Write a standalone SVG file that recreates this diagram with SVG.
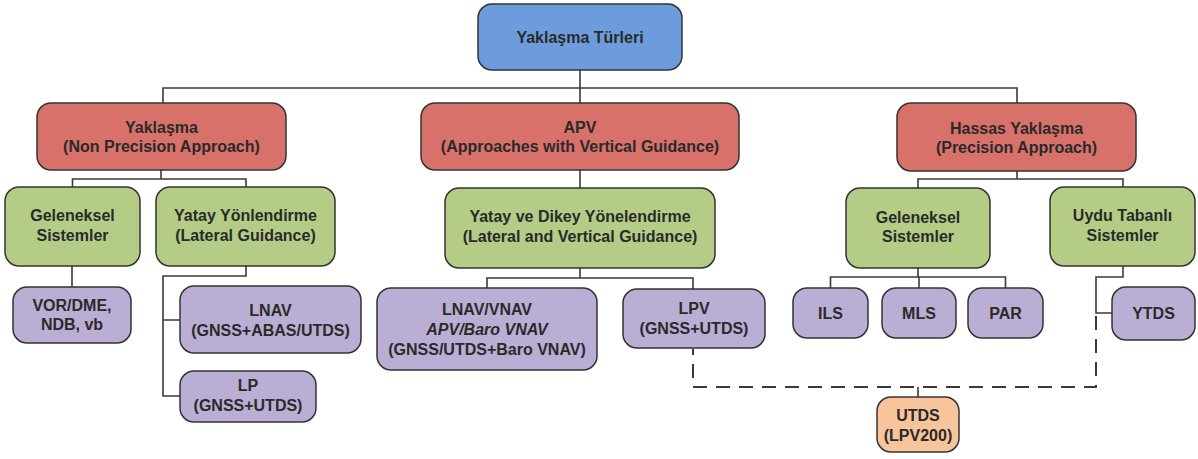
<svg xmlns="http://www.w3.org/2000/svg" width="1198" height="459" viewBox="0 0 1198 459">
<style>
.box{stroke:#333;stroke-width:1.5}
.blue{fill:#6c9cdb}
.red{fill:#d9716b}
.green{fill:#b4cc86}
.purple{fill:#bbaed4}
.orange{fill:#f8c49b}
text{font-family:"Liberation Sans",Arial,sans-serif;font-weight:bold;font-size:16px;fill:#2a2a2a;text-anchor:middle;dominant-baseline:central}
.it{font-style:italic}
.ln{fill:none;stroke:#3a3a3a;stroke-width:1.6}
.dash{fill:none;stroke:#3a3a3a;stroke-width:2;stroke-dasharray:14 9}
</style>
<rect width="1198" height="459" fill="#ffffff"/>
<g id="connectors">
<path class="ln" d="M580 70 V103 M163 103 V88 H1017 V103"/>
<path class="ln" d="M161 170 V179 M72.5 187 V179 H246 V187"/>
<path class="ln" d="M580 170 V188"/>
<path class="ln" d="M1017 171 V179 M918 188 V179 H1123 V187"/>
<path class="ln" d="M72 266 V287"/>
<path class="ln" d="M246 266 V276 H163 V396 H180 M163 320 H180"/>
<path class="ln" d="M580 268 V278 M487 288 V278 H693 V289"/>
<path class="ln" d="M918 268 V277 M830.5 288 V277 H1005.5 V288 M919 277 V288"/>
<path class="ln" d="M1123 266 V277 H1096 V313 H1112"/>
<path class="dash" d="M1096 316 V387 H693 V349"/>
<path class="ln" d="M918 387 V397"/>
</g>
<g id="root"><rect class="box blue" x="478" y="4" width="204" height="66" rx="14"/><text x="580" y="37">Yaklaşma Türleri</text></g>
<g id="npa"><rect class="box red" x="37" y="103" width="249" height="67" rx="14"/><text x="161.5" y="127">Yaklaşma</text><text x="161.5" y="146">(Non Precision Approach)</text></g>
<g id="apv"><rect class="box red" x="421" y="103" width="318" height="67" rx="14"/><text x="580" y="127">APV</text><text x="580" y="146">(Approaches with Vertical Guidance)</text></g>
<g id="pa"><rect class="box red" x="897" y="103" width="239" height="68" rx="14"/><text x="1016.5" y="128">Hassas Yaklaşma</text><text x="1016.5" y="147">(Precision Approach)</text></g>
<g id="geleneksel1"><rect class="box green" x="5" y="187" width="135" height="79" rx="14"/><text x="72.5" y="215">Geleneksel</text><text x="72.5" y="235">Sistemler</text></g>
<g id="yatay"><rect class="box green" x="156" y="187" width="179" height="79" rx="14"/><text x="245.5" y="215">Yatay Yönlendirme</text><text x="245.5" y="235">(Lateral Guidance)</text></g>
<g id="yataydikey"><rect class="box green" x="445" y="188" width="270" height="80" rx="14"/><text x="580" y="216">Yatay ve Dikey Yönelendirme</text><text x="580" y="236">(Lateral and Vertical Guidance)</text></g>
<g id="geleneksel2"><rect class="box green" x="846" y="188" width="144" height="80" rx="14"/><text x="918" y="217">Geleneksel</text><text x="918" y="236">Sistemler</text></g>
<g id="uydu"><rect class="box green" x="1050" y="187" width="145" height="79" rx="14"/><text x="1122.5" y="215">Uydu Tabanlı</text><text x="1122.5" y="235">Sistemler</text></g>
<g id="vor"><rect class="box purple" x="13" y="287" width="118" height="56" rx="14"/><text x="72" y="305">VOR/DME,</text><text x="72" y="324">NDB, vb</text></g>
<g id="lnav"><rect class="box purple" x="180" y="286" width="181" height="67" rx="14"/><text x="270.5" y="310">LNAV</text><text x="270.5" y="330">(GNSS+ABAS/UTDS)</text></g>
<g id="lp"><rect class="box purple" x="180" y="371" width="136" height="51" rx="14"/><text x="248" y="385">LP</text><text x="248" y="405">(GNSS+UTDS)</text></g>
<g id="lnavvnav"><rect class="box purple" x="377" y="288" width="220" height="82" rx="14"/><text x="487" y="309">LNAV/VNAV</text><text class="it" x="487" y="329">APV/Baro VNAV</text><text x="487" y="349">(GNSS/UTDS+Baro VNAV)</text></g>
<g id="lpv"><rect class="box purple" x="623" y="289" width="142" height="59" rx="14"/><text x="694" y="308">LPV</text><text x="694" y="328">(GNSS+UTDS)</text></g>
<g id="ils"><rect class="box purple" x="793" y="288" width="75" height="50" rx="14"/><text x="830.5" y="313">ILS</text></g>
<g id="mls"><rect class="box purple" x="882" y="288" width="74" height="50" rx="14"/><text x="919" y="313">MLS</text></g>
<g id="par"><rect class="box purple" x="968" y="288" width="75" height="50" rx="14"/><text x="1005.5" y="313">PAR</text></g>
<g id="ytds"><rect class="box purple" x="1112" y="287" width="83" height="53" rx="14"/><text x="1153.5" y="313">YTDS</text></g>
<g id="utds"><rect class="box orange" x="877" y="397" width="82" height="55" rx="14"/><text x="918" y="415">UTDS</text><text x="918" y="435">(LPV200)</text></g>
</svg>
